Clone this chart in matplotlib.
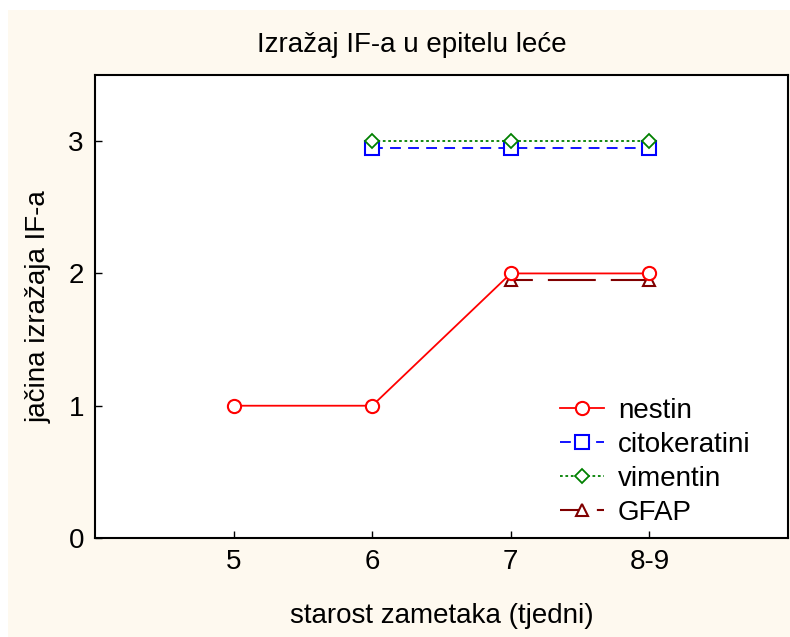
import matplotlib.pyplot as plt
from matplotlib.patches import Rectangle

plt.rcParams['font.family'] = ['Liberation Sans', 'DejaVu Sans']

# Data
categories = ['5', '6', '7', '8-9']
positions = [5, 6, 7, 8]

nestin_x = [5, 6, 7, 8]
nestin = [1, 1, 2, 2]
citokeratini_x = [6, 7, 8]
citokeratini = [2.95, 2.95, 2.95]
vimentin_x = [6, 7, 8]
vimentin = [3, 3, 3]
gfap_x = [7, 8]
gfap = [1.95, 1.95]

fig = plt.figure(figsize=(7.9, 6.37), dpi=100, facecolor='white')
# cream panel behind everything
fig.patches.append(Rectangle((8 / 790, 0), 1 - 8 / 790, 1 - 10 / 637,
                             transform=fig.transFigure, facecolor='#fef9ef',
                             edgecolor='none', zorder=-1))

ax = fig.add_axes([95 / 790, (637 - 538) / 637, (788 - 95) / 790, (538 - 75) / 637])
ax.set_facecolor('white')

ax.plot(nestin_x, nestin, color='#ff0000', lw=1.3, marker='o', ms=9.5,
        mfc='white', mec='#ff0000', mew=1.5, label='nestin', zorder=4)
ax.plot(citokeratini_x, citokeratini, color='#0000ff', lw=1.3, marker='s', ms=9.5,
        mfc='white', mec='#0000ff', mew=1.5, linestyle=(0, (6, 4)),
        label='citokeratini', zorder=3)
ax.plot(vimentin_x, vimentin, color='#008000', lw=1.3, marker='D', ms=7,
        mfc='white', mec='#008000', mew=1.3, linestyle=(0, (1.5, 1.5)),
        label='vimentin', zorder=3)
ax.plot(gfap_x, gfap, color='#800000', lw=1.5, marker='^', ms=9,
        mfc='white', mec='#800000', mew=1.5, linestyle=(12.5, (23, 7.2)),
        label='GFAP', zorder=3)

ax.set_xlim(4, 9)
ax.set_ylim(0, 3.5)
ax.set_xticks(positions)
ax.set_xticklabels(categories)
ax.set_yticks([0, 1, 2, 3])
ax.tick_params(direction='in', length=5, width=1, labelsize=20, pad=8, colors='black')

for s in ax.spines.values():
    s.set_linewidth(1.5)

fig.text(412 / 790, 1 - 45 / 637, 'Izražaj IF-a u epitelu leće', fontsize=20,
         ha='center', va='center')
ax.set_xlabel('starost zametaka (tjedni)', fontsize=20, labelpad=20)
ax.set_ylabel('jačina izražaja IF-a', fontsize=20, labelpad=12)

ax.legend(loc='lower right', bbox_to_anchor=(0.97, -0.009), frameon=False,
          fontsize=20, handlelength=1.6, handletextpad=0.5, labelspacing=0.28,
          borderaxespad=0.2)

fig.savefig('out.png', dpi=100, facecolor=fig.get_facecolor())
